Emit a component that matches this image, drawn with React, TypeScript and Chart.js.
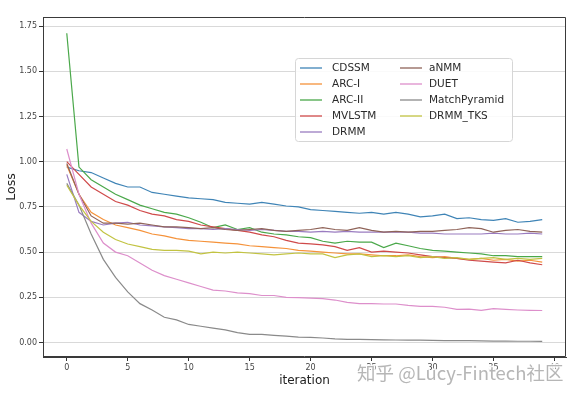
import React, { useEffect, useRef } from "react";
import { Chart, registerables } from "chart.js";

Chart.register(...registerables);

const iterations = [0,1,2,3,4,5,6,7,8,9,10,11,12,13,14,15,16,17,18,19,20,21,22,23,24,25,26,27,28,29,30,31,32,33,34,35,36,37,38,39];
const yTickValues = [0, 0.25, 0.5, 0.75, 1.0, 1.25, 1.5, 1.75];
const xTickValues = [0, 5, 10, 15, 20, 25, 30, 35, 40];

const seriesNames = ["CDSSM", "ARC-I", "ARC-II", "MVLSTM", "DRMM", "aNMM", "DUET", "MatchPyramid", "DRMM_TKS"];
const seriesColors = ["#3f84b6", "#f5923a", "#4aa84a", "#cf4a4a", "#9a7cc0", "#8f6358", "#dd8fcb", "#8a8a8a", "#c2c342"];

const cdssm = [0.97,0.95,0.94,0.91,0.88,0.86,0.86,0.83,0.82,0.81,0.80,0.795,0.79,0.775,0.77,0.765,0.775,0.765,0.755,0.75,0.735,0.73,0.725,0.72,0.715,0.72,0.71,0.72,0.71,0.695,0.70,0.71,0.685,0.69,0.68,0.675,0.685,0.665,0.67,0.68];
const arcI = [0.98,0.82,0.72,0.68,0.65,0.635,0.62,0.60,0.59,0.575,0.565,0.56,0.555,0.55,0.545,0.535,0.53,0.525,0.52,0.51,0.505,0.50,0.495,0.49,0.49,0.485,0.48,0.48,0.485,0.475,0.47,0.475,0.465,0.46,0.465,0.455,0.46,0.45,0.455,0.445];
const arcII = [1.71,0.97,0.90,0.86,0.82,0.79,0.76,0.74,0.72,0.71,0.69,0.665,0.635,0.65,0.625,0.635,0.61,0.60,0.595,0.585,0.58,0.56,0.55,0.56,0.555,0.555,0.525,0.55,0.535,0.52,0.51,0.505,0.50,0.495,0.49,0.48,0.48,0.475,0.475,0.475];
const mvlstm = [1.00,0.93,0.86,0.82,0.78,0.76,0.73,0.71,0.70,0.68,0.67,0.65,0.64,0.63,0.62,0.61,0.595,0.585,0.565,0.55,0.545,0.54,0.53,0.51,0.525,0.50,0.505,0.50,0.495,0.485,0.475,0.47,0.465,0.455,0.45,0.445,0.44,0.455,0.44,0.43];
const drmm = [0.93,0.72,0.67,0.65,0.66,0.665,0.65,0.645,0.64,0.635,0.63,0.63,0.625,0.63,0.625,0.62,0.625,0.62,0.615,0.615,0.61,0.615,0.61,0.615,0.61,0.61,0.61,0.61,0.61,0.605,0.605,0.60,0.60,0.60,0.60,0.605,0.60,0.60,0.605,0.60];
const anmm = [0.99,0.82,0.70,0.66,0.66,0.655,0.66,0.65,0.64,0.64,0.635,0.63,0.635,0.625,0.62,0.625,0.63,0.62,0.615,0.62,0.625,0.635,0.625,0.62,0.635,0.62,0.61,0.615,0.61,0.615,0.615,0.62,0.625,0.635,0.63,0.61,0.62,0.625,0.615,0.61];
const duet = [1.07,0.82,0.66,0.55,0.50,0.48,0.44,0.40,0.37,0.35,0.33,0.31,0.29,0.285,0.275,0.27,0.26,0.26,0.25,0.248,0.245,0.243,0.235,0.222,0.215,0.215,0.213,0.213,0.205,0.20,0.20,0.195,0.183,0.185,0.178,0.187,0.183,0.18,0.178,0.177];
const matchPyramid = [0.88,0.76,0.60,0.46,0.36,0.28,0.215,0.18,0.14,0.125,0.10,0.09,0.08,0.07,0.055,0.045,0.045,0.04,0.035,0.03,0.028,0.025,0.02,0.018,0.017,0.016,0.015,0.014,0.013,0.013,0.012,0.011,0.01,0.01,0.009,0.008,0.008,0.007,0.007,0.006];
const drmmTks = [0.87,0.76,0.67,0.61,0.57,0.545,0.53,0.515,0.51,0.51,0.505,0.49,0.50,0.495,0.50,0.495,0.49,0.485,0.49,0.495,0.49,0.49,0.47,0.485,0.49,0.475,0.48,0.475,0.48,0.47,0.475,0.465,0.47,0.46,0.465,0.47,0.46,0.465,0.46,0.465];

const seriesValues = [cdssm, arcI, arcII, mvlstm, drmm, anmm, duet, matchPyramid, drmmTks];

const W = 585;
const H = 399;

const framePlugin = {
  id: "frame",
  afterDatasetsDraw(chart: any) {
    const { ctx, chartArea } = chart;
    ctx.save();
    ctx.strokeStyle = "#3a3a3a";
    ctx.lineWidth = 1;
    const l = Math.round(chartArea.left) + 0.5;
    const r = Math.round(chartArea.right) - 0.5;
    const t = Math.round(chartArea.top) + 0.5;
    const b = Math.round(chartArea.bottom) - 0.5;
    ctx.beginPath();
    ctx.moveTo(l, b);
    ctx.lineTo(l, t);
    ctx.lineTo(r, t);
    ctx.lineTo(r, b);
    ctx.lineTo(l, b);
    ctx.stroke();
    ctx.restore();
  },
};

const legendPlugin = {
  id: "customLegend",
  afterDraw(chart: any) {
    const { ctx } = chart;
    ctx.save();
    const bx = 295.5, by = 58.5, bw = 217, bh = 83, rad = 3;
    ctx.beginPath();
    ctx.moveTo(bx + rad, by);
    ctx.lineTo(bx + bw - rad, by);
    ctx.arcTo(bx + bw, by, bx + bw, by + rad, rad);
    ctx.lineTo(bx + bw, by + bh - rad);
    ctx.arcTo(bx + bw, by + bh, bx + bw - rad, by + bh, rad);
    ctx.lineTo(bx + rad, by + bh);
    ctx.arcTo(bx, by + bh, bx, by + bh - rad, rad);
    ctx.lineTo(bx, by + rad);
    ctx.arcTo(bx, by, bx + rad, by, rad);
    ctx.closePath();
    ctx.fillStyle = "rgba(255,255,255,0.85)";
    ctx.fill();
    ctx.strokeStyle = "#d6d6d6";
    ctx.lineWidth = 1;
    ctx.stroke();

    ctx.font = "10.5px 'DejaVu Sans'";
    ctx.textBaseline = "middle";
    ctx.textAlign = "left";
    seriesNames.forEach((name, i) => {
      const col = i < 5 ? 0 : 1;
      const row = i < 5 ? i : i - 5;
      const y = 68 + row * 16;
      const sx = col === 0 ? 300 : 400;
      const tx = col === 0 ? 332 : 429;
      ctx.strokeStyle = seriesColors[i];
      ctx.lineWidth = 1.3;
      ctx.beginPath();
      ctx.moveTo(sx, y);
      ctx.lineTo(sx + 22, y);
      ctx.stroke();
      ctx.fillStyle = "#2a2a2a";
      ctx.fillText(name, tx, y);
    });
    ctx.restore();
  },
};

const watermarkPlugin = {
  id: "watermark",
  afterDraw(chart: any) {
    const { ctx } = chart;
    ctx.save();
    ctx.font = "18.5px 'Noto Sans CJK SC'";
    ctx.textBaseline = "middle";
    ctx.textAlign = "left";
    const text = "知乎 @Lucy-Fintech社区";
    ctx.lineJoin = "round";
    ctx.strokeStyle = "rgba(255,255,255,0.9)";
    ctx.lineWidth = 3;
    ctx.strokeText(text, 357, 373);
    ctx.fillStyle = "rgba(178,178,178,0.95)";
    ctx.fillText(text, 357, 373);
    ctx.restore();
  },
};

export default function App() {
  const canvasRef = useRef<HTMLCanvasElement | null>(null);

  useEffect(() => {
    document.body.style.margin = "0";
    const canvas = canvasRef.current;
    if (!canvas) return;
    const datasets = seriesNames.map((name, i) => ({
      label: name,
      data: iterations.map((x, j) => ({ x, y: seriesValues[i][j] })),
      borderColor: seriesColors[i],
      backgroundColor: seriesColors[i],
      borderWidth: 1.2,
      pointRadius: 0,
      tension: 0,
      fill: false,
      order: seriesNames.length - i,
    }));
    const chart = new Chart(canvas, {
      type: "line",
      data: { datasets },
      plugins: [framePlugin, legendPlugin, watermarkPlugin],
      options: {
        animation: false,
        responsive: false,
        devicePixelRatio: 1,
        layout: { padding: { top: 17, right: 19, bottom: 7, left: 0 } },
        plugins: { legend: { display: false }, tooltip: { enabled: false } },
        scales: {
          x: {
            type: "linear",
            min: -1.95,
            max: 40.95,
            afterBuildTicks: (axis: any) => {
              axis.ticks = xTickValues.map((v) => ({ value: v }));
            },
            afterFit: (axis: any) => {
              axis.height = 35;
            },
            grid: { drawOnChartArea: false, drawTicks: true, tickLength: 4, tickColor: "#333", color: "#333" },
            border: { display: true, color: "#3a3a3a", width: 1 },
            ticks: {
              font: { family: "DejaVu Sans", size: 8 },
              color: "#444",
              padding: 2,
              maxRotation: 0,
              autoSkip: false,
              callback: (v: any) => String(v),
            },
            title: {
              display: true,
              text: "iteration",
              font: { family: "DejaVu Sans", size: 12 },
              color: "#222",
              padding: { top: 4, bottom: 4 },
            },
          },
          y: {
            type: "linear",
            min: -0.08,
            max: 1.8,
            afterBuildTicks: (axis: any) => {
              axis.ticks = yTickValues.map((v) => ({ value: v }));
            },
            afterFit: (axis: any) => {
              axis.width = 43;
            },
            grid: { color: "#d9d9d9", lineWidth: 1, drawTicks: true, tickLength: 4, tickColor: "#333" },
            border: { display: true, color: "#3a3a3a", width: 1 },
            ticks: {
              font: { family: "DejaVu Sans", size: 8 },
              color: "#444",
              padding: 2,
              autoSkip: false,
              callback: (v: any) => Number(v).toFixed(2),
            },
            title: {
              display: true,
              text: "Loss",
              font: { family: "DejaVu Sans", size: 12.5 },
              color: "#222",
              padding: { top: 4, bottom: 4 },
            },
          },
        },
      },
    });
    return () => chart.destroy();
  }, []);

  return (
    <div style={{ width: W, height: H, position: "relative", background: "#fff" }}>
      <canvas ref={canvasRef} width={W} height={H} style={{ display: "block" }} />
    </div>
  );
}
